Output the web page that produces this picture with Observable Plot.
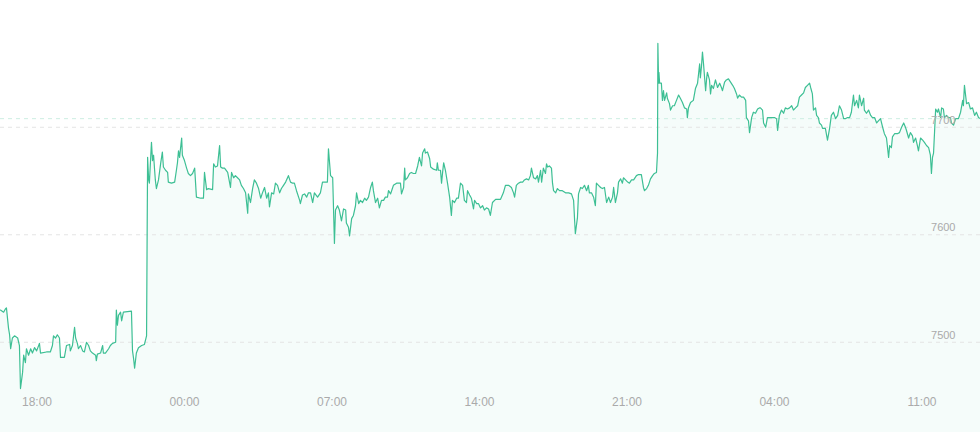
<!DOCTYPE html>
<html>
<head>
<meta charset="utf-8">
<script src="https://cdn.jsdelivr.net/npm/d3@7"></script>
<script src="https://cdn.jsdelivr.net/npm/@observablehq/plot@0.6"></script>
<style>
  html, body { margin: 0; padding: 0; background: #ffffff; }
  #chart { width: 980px; height: 432px; }
</style>
</head>
<body>
<div id="chart"></div>
<script>
// Minutes relative to the "18:00" label (x positions of the ticks)
const minutes = [
  -104,-95,-90,-87,-81,-78,-75,-70,-64,-55,
  -50,-47,-41,-38,-33,-30,-24,-18,-13,-7,
  -1,7,10,27,38,44,47,53,58,64,
  67,78,84,93,95,101,107,110,115,118,
  124,130,135,141,147,152,158,167,169,172,
  181,187,189,195,204,209,215,224,226,229,
  232,238,241,246,269,272,275,278,283,289,
  298,306,312,
  315,318,320,326,329,332,335,337,340,346,
  352,357,360,366,372,374,383,392,397,400,
  403,406,412,414,420,426,431,437,443,449,
  454,466,474,477,483,488,500,503,508,514,
  520,523,528,534,543,551,554,560,565,571,
  577,582,588,594,600,602,608,614,619,625,
  631,637,642,648,654,659,662,668,674,679,
  685,691,696,702,708,716,722,728,733,739,
  748,750,756,762,768,773,779,785,790,799,
  807,813,827,830,836,842,844,847,850,856,
  861,867,873,879,881,887,890,896,901,907,
  910,916,921,927,933,938,944,950,955,958,
  964,970,975,981,987,992,998,1001,1007,1012,
  1015,1024,1035,1038,1044,1047,1049,1055,1061,1066,
  1072,1078,1084,1089,1095,1098,1104,1106,1112,1118,
  1121,1129,1138,1140,1143,1149,1152,1155,1158,1163,
  1169,1175,1180,1183,1189,1195,1200,1206,1212,1217,
  1223,1226,1232,1237,1243,1246,1252,1257,1263,1269,
  1274,1280,1286,1291,1297,1306,1320,1328,1334,1343,
  1351,1357,1360,1365,1371,1377,1383,1388,1394,1400,
  1405,1408,1414,1420,1425,1428,1434,1437,1442,1448,
  1451,1454,1459,1465,1468,1471,1477,1482,1488,1496,
  1505,1514,1522,1528,1531,1533,1539,1542,1548,1553,
  1559,1565,1570,1573,1579,1585,1590,1593,1599,1605,
  1610,1616,1622,1628,1633,1639,1642,1647,1653,1656,
  1662,1667,1670,1676,1682,1687,1693,1699,1707,1713,
  1721,1727,1730,1736,1741,1747,1753,1758,1764,1767,
  1768,1770,1771,1773,1778,1781,1784,1787,1793,1795,
  1801,1804,1810,1815,1821,1827,1832,1838,1844,1850,
  1852,1855,1861,1869,1875,1881,1884,1887,1889,1892,
  1895,1898,1904,1907,1909,1915,1918,1921,1926,1932,
  1938,1944,1949,1952,1958,1963,1969,1975,1981,1986,
  1992,1995,2000,2006,2012,2018,2020,2026,2029,2035,
  2040,2046,2052,2057,2060,2066,2069,2075,2080,2086,
  2094,2100,2106,2109,2114,2120,2126,2131,2137,2143,
  2149,2154,2160,2166,2171,2177,2183,2188,2194,2200,
  2203,2208,2211,2217,2220,2225,2228,2234,2237,2245,
  2251,2257,2262,2268,2274,2280,2285,2291,2297,2302,
  2308,2314,2319,2325,2328,2334,2339,2342,2348,2354,
  2356,2362,2368,2374,2379,2385,2391,2396,2402,2408,
  2413,2419,2425,2428,2433,2436,2442,2450,2456,2462,
  2468,2473,2476,2482,2487,2493,2496,2502,2507,2510,
  2516,2522,2527,2533,2539,2544,2547,2550,2553,2559,
  2564,2567,2573,2576,2581,2584,2590,2596,2601,2604,
  2610,2616,2624,2630,2636,2638,2641,2647,2653,2658,
  2664,2670,2675,2681,2687
];

const prices = [
  7530,7528,7531,7532,7513,7507,7494,7504,7506,7504,
  7497,7457,7472,7488,7481,7494,7488,7494,7490,7495,
  7492,7499,7490,7491,7491,7497,7506,7504,7507,7504,
  7486,7486,7497,7498,7492,7497,7514,7504,7499,7494,
  7497,7492,7491,7500,7497,7492,7490,7488,7483,7489,
  7490,7497,7490,7490,7494,7497,7499,7500,7530,7516,
  7525,7528,7520,7528,7529,7492,7485,7476,7490,7495,
  7497,7498,7506,
  7672,7651,7648,7686,7669,7674,7660,7651,7643,7651,
  7666,7677,7663,7660,7658,7649,7648,7649,7660,7667,
  7678,7672,7690,7674,7669,7662,7657,7655,7657,7662,
  7635,7634,7634,7658,7642,7643,7642,7666,7663,7664,
  7683,7663,7662,7662,7658,7644,7658,7653,7655,7653,
  7651,7646,7643,7639,7620,7638,7630,7643,7651,7648,
  7643,7634,7639,7644,7634,7639,7626,7639,7638,7648,
  7646,7639,7643,7646,7649,7655,7649,7648,7648,7641,
  7632,7629,7637,7638,7635,7639,7639,7630,7639,7635,
  7639,7649,7649,7680,7655,7653,7629,7592,7623,7627,
  7623,7613,7624,7623,7611,7607,7599,7615,7618,7627,
  7639,7629,7632,7630,7634,7632,7635,7644,7649,7641,
  7630,7634,7625,7632,7632,7635,7635,7641,7638,7643,
  7646,7648,7648,7638,7644,7662,7651,7653,7657,7658,
  7657,7657,7664,7672,7664,7676,7680,7676,7677,7671,
  7663,7661,7660,7667,7660,7660,7648,7658,7667,7660,
  7648,7635,7618,7632,7630,7634,7634,7648,7646,7632,
  7630,7641,7637,7634,7624,7632,7629,7629,7625,7627,
  7623,7625,7624,7618,7630,7633,7633,7639,7646,7646,
  7644,7639,7635,7646,7648,7649,7649,7651,7652,7651,
  7655,7662,7653,7652,7655,7649,7660,7649,7662,7657,
  7666,7663,7664,7662,7648,7641,7639,7643,7641,7641,
  7639,7639,7638,7632,7613,7601,7616,7638,7644,7643,
  7646,7641,7646,7639,7639,7635,7627,7648,7646,7644,
  7643,7644,7630,7635,7630,7635,7644,7630,7639,7649,
  7652,7648,7653,7651,7649,7648,7651,7651,7655,7656,
  7656,7644,7641,7643,7646,7652,7655,7657,7658,7676,
  7778,7741,7751,7741,7741,7725,7734,7725,7732,7727,
  7722,7716,7720,7720,7725,7730,7727,7723,7718,7717,
  7709,7718,7723,7725,7736,7741,7750,7759,7746,7756,
  7770,7759,7734,7746,7751,7744,7731,7739,7736,7744,
  7737,7741,7737,7734,7742,7744,7745,7742,7739,7736,
  7731,7727,7730,7728,7728,7725,7709,7706,7695,7709,
  7714,7713,7717,7718,7718,7716,7704,7700,7709,7709,
  7709,7709,7708,7697,7711,7716,7713,7718,7717,7718,
  7720,7716,7718,7720,7728,7730,7732,7737,7739,7741,
  7737,7731,7716,7718,7711,7709,7704,7702,7699,7699,
  7688,7699,7711,7714,7708,7711,7720,7716,7708,7708,
  7709,7709,7714,7730,7720,7725,7718,7730,7720,7727,
  7716,7713,7716,7711,7709,7709,7704,7706,7708,7700,
  7694,7690,7672,7683,7681,7691,7694,7694,7695,7700,
  7704,7700,7697,7690,7695,7692,7686,7690,7683,7678,
  7690,7688,7686,7683,7681,7674,7657,7672,7676,7717,
  7714,7717,7709,7718,7717,7709,7711,7709,7709,7704,
  7702,7708,7708,7714,7725,7720,7739,7722,7723,7717,
  7718,7711,7714,7709,7708
];

const tickMinutes = [0, 420, 840, 1260, 1680, 2100, 2520];
const tickLabels = ["18:00", "00:00", "07:00", "14:00", "21:00", "04:00", "11:00"];
const gridLevels = [7500, 7600, 7700];

const n = Math.min(minutes.length, prices.length);
const data = [];
for (let i = 0; i < n; i++) data.push({m: minutes[i], p: prices[i]});
const lastPrice = data[n - 1].p;

const xDomain = [-103.9, 2686.7];
const yDomain = [7416.1, 7817.9];
const green = "#3dbf94";

const chart = Plot.plot({
  width: 980,
  height: 432,
  margin: 0,
  x: {type: "linear", domain: xDomain, axis: null},
  y: {type: "linear", domain: yDomain, axis: null},
  style: {fontFamily: "'Liberation Sans', Arial, sans-serif", background: "#ffffff", overflow: "visible"},
  marks: [
    Plot.areaY(data, {x: "m", y1: () => yDomain[0], y2: "p", fill: green, fillOpacity: 0.05}),
    Plot.ruleY(gridLevels, {stroke: "#e4e4e4", strokeDasharray: "4,4", strokeWidth: 1}),
    Plot.ruleY([lastPrice], {stroke: "#cdeee2", strokeDasharray: "4,4", strokeWidth: 1}),
    Plot.lineY(data, {x: "m", y: "p", stroke: green, strokeWidth: 1.2}),
    Plot.text(gridLevels, {y: d => d, text: d => String(d), frameAnchor: "right", textAnchor: "end", dx: -25, dy: -7, fill: "#aaaaaa", fontSize: 11}),
    Plot.text(tickMinutes, {x: d => d, text: (d, i) => tickLabels[i], frameAnchor: "bottom", dy: -27, fill: "#aaaaaa", fontSize: 12})
  ]
});
document.getElementById("chart").appendChild(chart);
</script>
</body>
</html>
